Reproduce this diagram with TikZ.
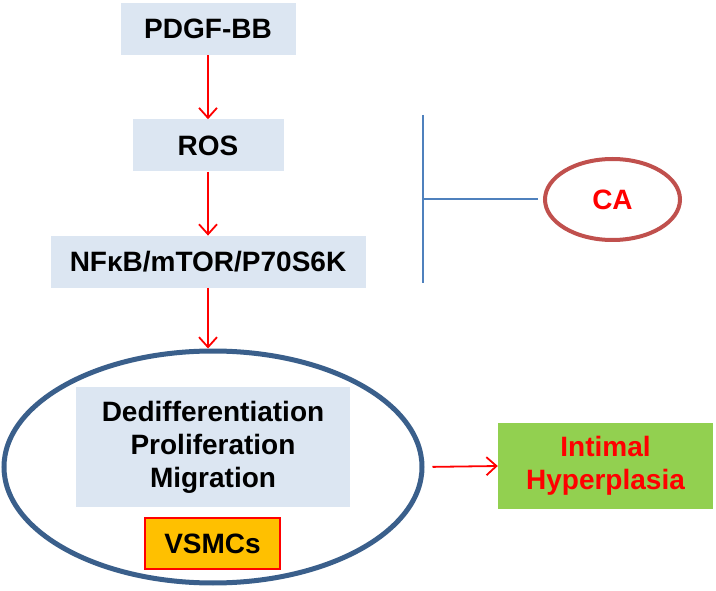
\documentclass[tikz,border=0pt]{standalone}
\usepackage{fontspec}
\setmainfont{Liberation Sans}
\definecolor{pathBox}{HTML}{DCE6F2}
\definecolor{pathRed}{HTML}{FF0000}
\definecolor{pathBlue}{HTML}{4F81BD}
\definecolor{pathNavy}{HTML}{3A5F8B}
\definecolor{pathBrick}{HTML}{C0504D}
\definecolor{pathGreen}{HTML}{92D050}
\definecolor{pathAmber}{HTML}{FFC000}
\usetikzlibrary{arrows.meta, positioning, shapes.geometric}

\begin{document}
\begin{tikzpicture}[
        x=1pt, y=-1pt,
        node distance=64pt,
        box/.style={
          fill=pathBox,
          text=black,
          minimum height=52pt,
          align=center,
          inner sep=0pt,
          font=\fontsize{28}{33}\selectfont\bfseries,
        },
        arr/.style={-{Straight Barb[length=10pt, width=18pt]}, pathRed, line width=1.8pt},
        bar/.style={pathBlue, line width=2pt},
      ]
        \useasboundingbox (0,0) rectangle (716,591);

        \node[box, minimum width=175pt] (pdgf) at (208,29) {PDGF-BB};
        \node[box, minimum width=151pt, below=of pdgf] (ros) {ROS};
        \node[box, minimum width=315pt, below=of ros] (nf) {NFκB/mTOR/P70S6K};

        \node[ellipse, draw=pathNavy, line width=5pt, minimum width=418pt, minimum height=232pt] (cell) at (213,467) {};
        \node[box, minimum width=274pt, minimum height=120pt] (events) at (213,447) {Dedifferentiation\\Proliferation\\Migration};
        \node[box, fill=pathAmber, draw=pathRed, line width=2pt, minimum width=135pt, minimum height=51pt] (vsmc) at (212.5,543.5) {VSMCs};

        \node[box, fill=pathGreen, text=pathRed, minimum width=215pt, minimum height=86pt] (ih) at (605.5,466) {Intimal\\Hyperplasia};

        \node[ellipse, draw=pathBrick, line width=4pt, minimum width=135pt, minimum height=81pt,
          text=pathRed, font=\fontsize{28}{33}\selectfont\bfseries] (ca) at (612.5,199.5) {CA};

        \coordinate (bartop) at (423,115);
        \coordinate (barbot) at (423,283);
        \coordinate (barmid) at (423,199.5);

        \draw[arr] (pdgf) -- (ros);
        \draw[arr] (ros) -- (nf);
        \draw[arr] (nf.south) -- (nf.south |- cell.north);
        \draw[arr, shorten <=8pt] (cell.east) -- (ih.west);

        \draw[bar] (bartop) -- (barbot);
        \draw[bar, shorten <=5pt] (ca.west) -- (barmid);
      \end{tikzpicture}
\end{document}
